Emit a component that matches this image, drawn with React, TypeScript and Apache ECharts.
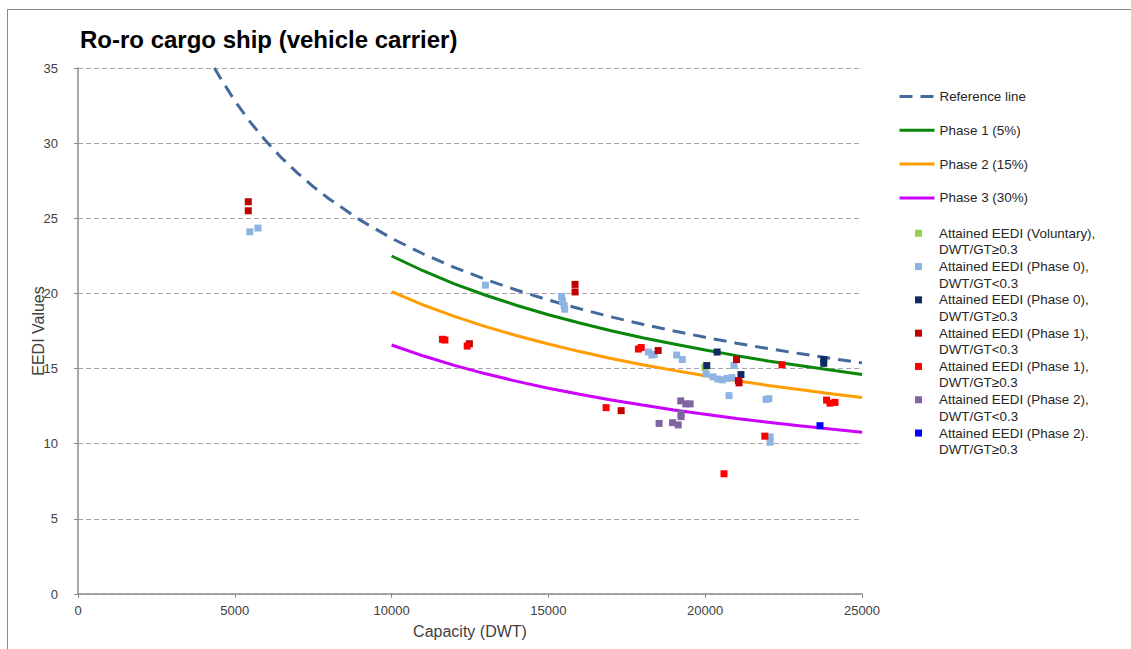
import React, { useEffect, useRef } from "react";
import * as echarts from "echarts";

const TITLE = "Ro-ro cargo ship (vehicle carrier)";
const X_NAME = "Capacity (DWT)";
const Y_NAME = "EEDI Values";

// Reference line
const refX = [4350, 4600, 5000, 5500, 6000, 6500, 7000, 7500, 8000, 9000, 10000, 11000, 12000, 13000, 14000, 15000, 16000, 17000, 18000, 19000, 20000, 21000, 22000, 23000, 24000, 25000];
const refY = [35.0, 34.13, 32.82, 31.38, 30.12, 29.0, 28.01, 27.11, 26.3, 24.88, 23.67, 22.64, 21.73, 20.93, 20.21, 19.56, 18.98, 18.44, 17.95, 17.5, 17.08, 16.69, 16.33, 16.0, 15.68, 15.38];

// Phase lines (10000 - 25000 DWT)
const phaseX = [10000, 11000, 12000, 13000, 14000, 15000, 16000, 17000, 18000, 19000, 20000, 21000, 22000, 23000, 24000, 25000];
const phase1Y = [22.49, 21.51, 20.64, 19.88, 19.2, 18.58, 18.03, 17.52, 17.05, 16.63, 16.23, 15.86, 15.51, 15.2, 14.9, 14.61];
const phase2Y = [20.12, 19.24, 18.47, 17.79, 17.18, 16.63, 16.13, 15.67, 15.26, 14.88, 14.52, 14.19, 13.88, 13.6, 13.33, 13.07];
const phase3Y = [16.57, 15.85, 15.21, 14.65, 14.15, 13.69, 13.29, 12.91, 12.57, 12.25, 11.96, 11.68, 11.43, 11.2, 10.98, 10.77];

// Attained EEDI points [DWT, EEDI]
const voluntaryGe = [[19990, 15.1]];
const phase0Lt = [
  [5480, 24.1], [5740, 24.35], [12990, 20.55],
  [15420, 19.8], [15450, 19.5], [15500, 19.2], [15520, 18.95],
  [18190, 16.1], [18300, 15.9], [18380, 15.95],
  [19090, 15.9], [19270, 15.6],
  [20030, 14.65], [20250, 14.45], [20400, 14.3], [20550, 14.25], [20700, 14.35], [20850, 14.4],
  [20920, 15.2], [20760, 13.2], [21940, 12.95], [22030, 13.0], [22070, 10.45], [22070, 10.1],
];
const phase0Ge = [[20050, 15.2], [20380, 16.1], [21140, 14.6], [23780, 15.6], [23780, 15.35]];
const phase1Lt = [
  [5430, 26.1], [5430, 25.5], [12480, 16.65], [15850, 20.6], [15850, 20.1],
  [18500, 16.2], [17320, 12.2], [21000, 15.6], [21060, 14.2], [21080, 14.05],
];
const phase1Ge = [
  [11620, 16.95], [11700, 16.9], [12410, 16.5], [17870, 16.3], [17960, 16.4],
  [16840, 12.4], [22450, 15.25], [23870, 12.9], [23980, 12.7], [24140, 12.75],
  [21900, 10.5], [20600, 8.0],
];
const phase2Lt = [
  [19220, 12.85], [19380, 12.65], [19520, 12.65], [19230, 12.0], [19230, 11.8],
  [18530, 11.35], [18960, 11.4], [19140, 11.25],
];
const phase2Ge = [[23660, 11.2]];

const lineNames = ["Reference line", "Phase 1 (5%)", "Phase 2 (15%)", "Phase 3 (30%)"];
const scatterNames = [
  "Attained EEDI (Voluntary),\nDWT/GT≥0.3",
  "Attained EEDI (Phase 0),\nDWT/GT<0.3",
  "Attained EEDI (Phase 0),\nDWT/GT≥0.3",
  "Attained EEDI (Phase 1),\nDWT/GT<0.3",
  "Attained EEDI (Phase 1),\nDWT/GT≥0.3",
  "Attained EEDI (Phase 2),\nDWT/GT<0.3",
  "Attained EEDI (Phase 2).\nDWT/GT≥0.3",
];

const zip = (xs: number[], ys: number[]) => xs.map((x, i) => [x, ys[i]]);

export default function App() {
  const ref = useRef<HTMLDivElement>(null);
  useEffect(() => {
    if (!ref.current) return;
    const chart = echarts.init(ref.current, undefined, { renderer: "svg" });
    const font = "'Liberation Sans', Arial, sans-serif";
    const lineSeries = (name: string, data: number[][], color: string, type: any, width: number) => ({
      name,
      type: "line",
      data,
      symbol: "none",
      smooth: false,
      lineStyle: { color, width, type },
      itemStyle: { color },
      z: 2,
    });
    const scatterColors = ["#92D050", "#8DB4E2", "#0F2A62", "#C00000", "#FF0000", "#8064A2", "#0000FF"];
    const scatterData = [voluntaryGe, phase0Lt, phase0Ge, phase1Lt, phase1Ge, phase2Lt, phase2Ge];
    const option: any = {
      animation: false,
      backgroundColor: "#ffffff",
      textStyle: { fontFamily: font },
      title: {
        text: TITLE,
        left: 80,
        top: 27,
        padding: 0,
        textStyle: { fontSize: 24, fontWeight: "bold", color: "#000000", fontFamily: font },
      },
      grid: { left: 78, top: 68, width: 784, height: 526 },
      xAxis: {
        type: "value",
        min: 0,
        max: 25000,
        interval: 5000,
        name: X_NAME,
        nameLocation: "middle",
        nameGap: 29,
        nameMoveOverlap: false,
        nameTextStyle: { fontSize: 16, color: "#404040", fontFamily: font },
        axisLine: { show: true, lineStyle: { color: "#8C8C8C", width: 1.5 } },
        axisTick: { show: true, length: 4, lineStyle: { color: "#8C8C8C" } },
        axisLabel: { fontSize: 13, color: "#404040", margin: 10, fontFamily: font, formatter: (v: number) => String(v) },
        splitLine: { show: false },
      },
      yAxis: {
        type: "value",
        min: 0,
        max: 35,
        interval: 5,
        name: Y_NAME,
        nameLocation: "middle",
        nameGap: 32,
        nameRotate: 90,
        nameMoveOverlap: false,
        nameTextStyle: { fontSize: 16, color: "#404040", fontFamily: font },
        axisLine: { show: true, lineStyle: { color: "#8C8C8C", width: 1.5 } },
        axisTick: { show: true, length: 4, lineStyle: { color: "#8C8C8C" } },
        axisLabel: { fontSize: 13, color: "#404040", margin: 20, fontFamily: font, formatter: (v: number) => String(v) },
        splitLine: { show: true, lineStyle: { color: "#A6A6A6", type: [5, 3], width: 1.2 } },
      },
      legend: [
        {
          orient: "vertical",
          left: 898,
          top: 90,
          padding: 0,
          itemWidth: 35,
          itemHeight: 14,
          itemGap: 20.8,
          data: lineNames,
          itemStyle: { opacity: 0 },
          lineStyle: { width: 3 },
          textStyle: { fontSize: 13.4, color: "#262626", fontFamily: font },
        },
        {
          orient: "vertical",
          left: 915,
          top: 208.5,
          padding: 0,
          itemWidth: 7,
          itemHeight: 7,
          itemGap: -16.2,
          data: scatterNames.map((n) => ({ name: n, icon: "rect" })),
          // leading blank line keeps the marker beside the first text line
          formatter: (name: string) => "\n" + name,
          textStyle: {
            fontSize: 13.4,
            color: "#262626",
            fontFamily: font,
            lineHeight: 16.5,
            padding: [0, 0, 0, 12],
          },
        },
      ],
      graphic: [
        {
          type: "rect",
          shape: { x: 7.5, y: 9.5, width: 1300, height: 800 },
          style: { fill: "none", stroke: "#8A8A8A", lineWidth: 1 },
          silent: true,
          z: 100,
        },
      ],
      series: [
        lineSeries(lineNames[0], zip(refX, refY), "#44699C", [13, 8], 3),
        lineSeries(lineNames[1], zip(phaseX, phase1Y), "#0A860A", "solid", 3),
        lineSeries(lineNames[2], zip(phaseX, phase2Y), "#FF9C00", "solid", 3),
        lineSeries(lineNames[3], zip(phaseX, phase3Y), "#CC00FF", "solid", 3),
        ...scatterNames.map((name, i) => ({
          name,
          type: "scatter",
          symbol: "rect",
          symbolSize: 7,
          data: scatterData[i],
          itemStyle: { color: scatterColors[i], opacity: 1 },
          z: 3,
        })),
      ],
    };
    chart.setOption(option);
    return () => chart.dispose();
  }, []);
  return (
    <div
      ref={ref}
      style={{ position: "absolute", left: 0, top: 0, width: 1131, height: 649, background: "#fff" }}
    />
  );
}
